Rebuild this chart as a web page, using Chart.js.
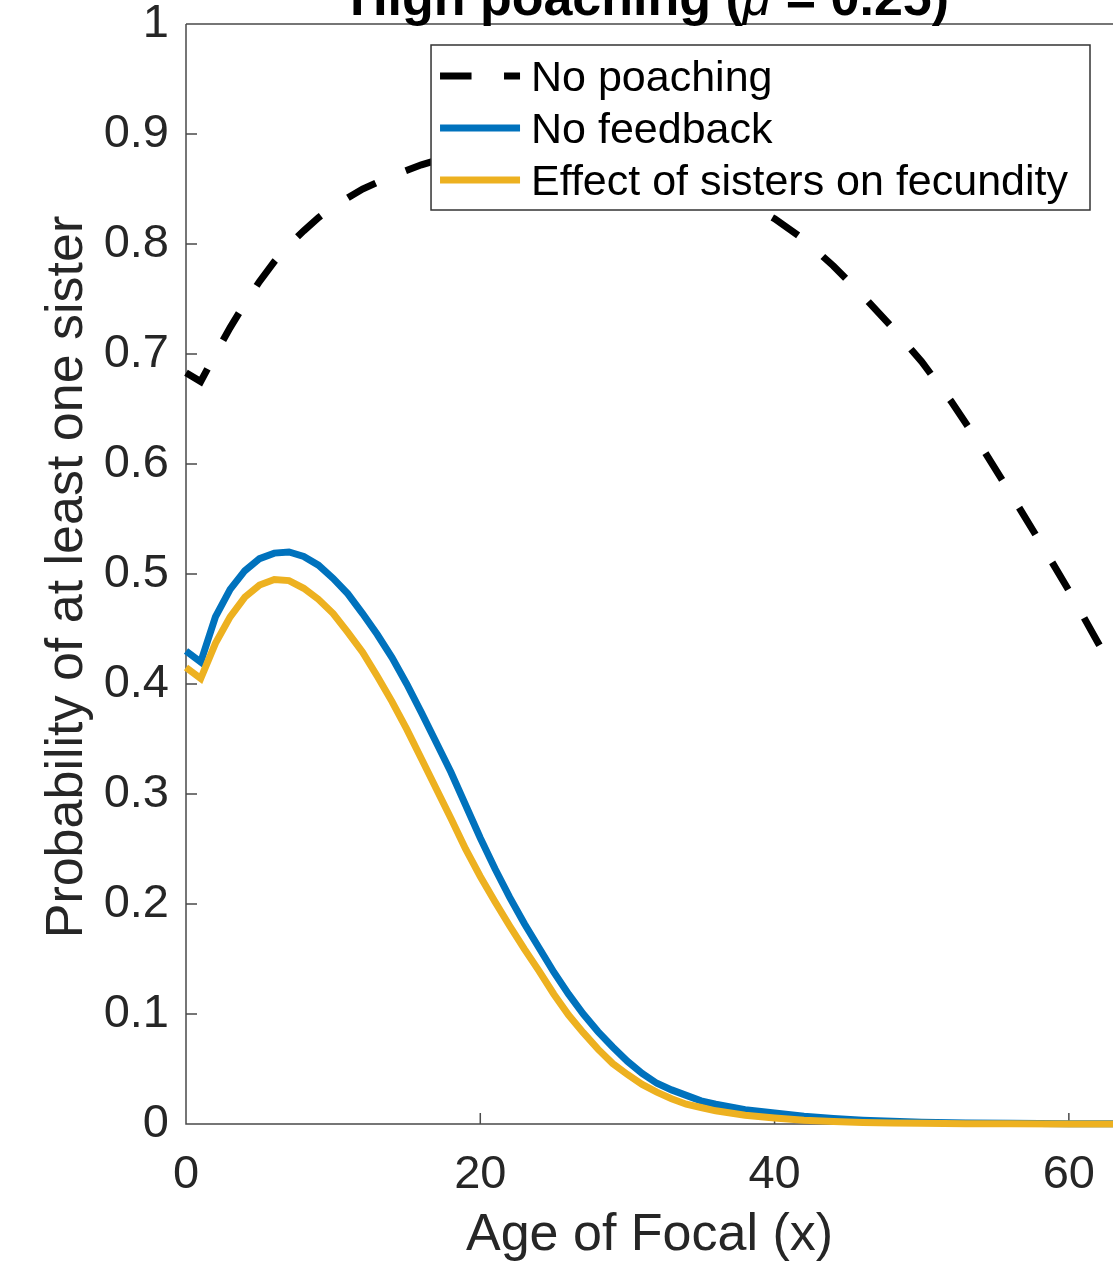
<!DOCTYPE html>
<html>
<head>
<meta charset="utf-8">
<title>High poaching</title>
<script src="https://cdn.jsdelivr.net/npm/chart.js@4.4.1/dist/chart.umd.min.js"></script>
<style>
  html, body { margin: 0; padding: 0; background: #fff; }
  canvas { display: block; }
</style>
</head>
<body>
<canvas id="sisterChart" width="1117" height="1263"></canvas>
<script>
// probability of at least one sister, by age of Focal

// no poaching (dashed black)
const noPoachingAge = [0, 1, 2, 3, 4, 5, 6, 7, 8, 9, 10, 12, 14, 16, 18, 20, 22, 24, 26, 28, 30,
  32, 34, 36, 38, 40, 42, 44, 46, 48, 50, 52, 54, 56, 58, 60, 62, 63];
const noPoachingProb = [0.683, 0.675, 0.700, 0.724, 0.746, 0.766, 0.784, 0.799, 0.812, 0.824, 0.834,
  0.850, 0.862, 0.872, 0.880, 0.886, 0.890, 0.891, 0.890, 0.886, 0.880, 0.872, 0.862, 0.851, 0.838,
  0.823, 0.804, 0.780, 0.753, 0.724, 0.693, 0.657, 0.617, 0.574, 0.530, 0.485, 0.437, 0.414];

// poaching curves share the same ages
const poachingAge = [0, 1, 2, 3, 4, 5, 6, 7, 8, 9, 10, 11, 12, 13, 14, 15, 16, 17, 18, 19, 20,
  21, 22, 23, 24, 25, 26, 27, 28, 29, 30, 31, 32, 33, 34, 35, 36, 38, 40, 42, 44, 46, 48, 50,
  53, 56, 60, 63];
const noFeedbackProb = [0.430, 0.420, 0.461, 0.486, 0.503, 0.514, 0.519, 0.520, 0.516, 0.508, 0.496,
  0.482, 0.464, 0.445, 0.424, 0.400, 0.374, 0.347, 0.320, 0.290, 0.260, 0.232, 0.206, 0.182, 0.160,
  0.138, 0.118, 0.100, 0.084, 0.070, 0.057, 0.046, 0.037, 0.031, 0.026, 0.021, 0.018, 0.013, 0.010,
  0.007, 0.005, 0.0035, 0.0025, 0.0017, 0.001, 0.0006, 0.0003, 0.0002];
const fecundityProb = [0.415, 0.405, 0.437, 0.461, 0.479, 0.490, 0.495, 0.494, 0.487, 0.477, 0.464,
  0.447, 0.429, 0.407, 0.384, 0.359, 0.332, 0.305, 0.278, 0.250, 0.225, 0.202, 0.180, 0.159, 0.139,
  0.118, 0.099, 0.083, 0.068, 0.055, 0.045, 0.036, 0.029, 0.023, 0.018, 0.015, 0.012, 0.008, 0.0055,
  0.0035, 0.0022, 0.0014, 0.0009, 0.0006, 0.0003, 0.0002, 0.0001, 0.0001];

const seriesLabels = ['No poaching', 'No feedback', 'Effect of sisters on fecundity'];
const xTickValues = [0, 20, 40, 60];
const yTickValues = [0, 0.1, 0.2, 0.3, 0.4, 0.5, 0.6, 0.7, 0.8, 0.9, 1];
const xMax = 63;

const titleParts = ['High poaching (', '\u03bc', ' = 0.25)'];
const xTitle = 'Age of Focal (x)';
const yTitle = 'Probability of at least one sister';

const FONT = '"Liberation Sans", Arial, Helvetica, sans-serif';
const AXIS_COLOR = '#4a4a4a';
const LINE_W = 7;

const toPoints = (xs, ys) => xs.map((x, i) => ({ x: x, y: ys[i] }));

// axis lines, top edge and inward tick marks (drawn under the curves)
const axesFrame = {
  id: 'axesFrame',
  beforeDatasetsDraw(chart) {
    const { ctx, chartArea: a, scales } = chart;
    ctx.save();
    ctx.strokeStyle = AXIS_COLOR;
    ctx.lineWidth = 1.5;
    ctx.beginPath();
    ctx.moveTo(a.left, a.top);
    ctx.lineTo(a.left, a.bottom);
    ctx.lineTo(a.right, a.bottom);
    ctx.moveTo(a.left, a.top);
    ctx.lineTo(a.right, a.top);
    yTickValues.forEach(v => {
      const y = scales.y.getPixelForValue(v);
      ctx.moveTo(a.left, y);
      ctx.lineTo(a.left + 11, y);
    });
    xTickValues.forEach(v => {
      const x = scales.x.getPixelForValue(v);
      ctx.moveTo(x, a.bottom);
      ctx.lineTo(x, a.bottom - 11);
    });
    ctx.stroke();
    ctx.restore();
  }
};

// title, axis titles and boxed legend
const labelsAndLegend = {
  id: 'labelsAndLegend',
  afterDraw(chart) {
    const { ctx, chartArea: a } = chart;
    const cx = (a.left + a.right) / 2;
    ctx.save();

    // title (top part falls off the canvas)
    const fonts = ['bold 52px ' + FONT, 'italic 52px ' + FONT, 'bold 52px ' + FONT];
    const widths = titleParts.map((t, i) => { ctx.font = fonts[i]; return ctx.measureText(t).width; });
    let tx = cx - widths.reduce((s, w) => s + w, 0) / 2;
    ctx.fillStyle = '#000';
    ctx.textBaseline = 'alphabetic';
    ctx.textAlign = 'left';
    titleParts.forEach((t, i) => {
      ctx.font = fonts[i];
      ctx.fillText(t, tx, 15);
      tx += widths[i];
    });

    // axis titles
    ctx.fillStyle = '#262626';
    ctx.font = '52px ' + FONT;
    ctx.textAlign = 'center';
    ctx.fillText(xTitle, cx, 1250);
    ctx.save();
    ctx.translate(82, (a.top + a.bottom) / 2 + 3);
    ctx.rotate(-Math.PI / 2);
    ctx.fillText(yTitle, 0, 0);
    ctx.restore();

    // legend box
    ctx.font = '43px ' + FONT;
    const textW = Math.max(...chart.data.datasets.map(d => ctx.measureText(d.label).width));
    const sample = 80;
    const boxW = 10 + sample + 10 + textW + 22;
    const boxH = 165;
    const right = a.right - 23;
    const left = right - boxW;
    const top = a.top + 21;
    ctx.fillStyle = '#fff';
    ctx.fillRect(left, top, boxW, boxH);
    ctx.strokeStyle = '#333';
    ctx.lineWidth = 1.5;
    ctx.strokeRect(left, top, boxW, boxH);

    ctx.textAlign = 'left';
    chart.data.datasets.forEach((d, i) => {
      const rowY = top + 31 + i * 52;
      ctx.beginPath();
      ctx.setLineDash(d.borderDash || []);
      ctx.lineDashOffset = 0;
      ctx.lineCap = 'butt';
      ctx.strokeStyle = d.borderColor;
      ctx.lineWidth = d.borderWidth;
      ctx.moveTo(left + 9, rowY);
      ctx.lineTo(left + 9 + sample, rowY);
      ctx.stroke();
      ctx.setLineDash([]);
      ctx.fillStyle = '#000';
      ctx.fillText(d.label, left + 9 + sample + 11, rowY + 15);
    });
    ctx.restore();
  }
};

const ctx = document.getElementById('sisterChart').getContext('2d');
new Chart(ctx, {
  type: 'line',
  data: {
    datasets: [
      {
        label: seriesLabels[0],
        data: toPoints(noPoachingAge, noPoachingProb),
        borderColor: '#000000',
        borderWidth: LINE_W,
        borderDash: [31.5, 32.5],
        borderCapStyle: 'butt',
        order: 2
      },
      {
        label: seriesLabels[1],
        data: toPoints(poachingAge, noFeedbackProb),
        borderColor: '#0072BD',
        borderWidth: LINE_W,
        order: 1
      },
      {
        label: seriesLabels[2],
        data: toPoints(poachingAge, fecundityProb),
        borderColor: '#EDB120',
        borderWidth: LINE_W,
        order: 0
      }
    ]
  },
  options: {
    responsive: false,
    animation: false,
    devicePixelRatio: 1,
    layout: { padding: { top: 24, right: 4, left: 0, bottom: 0 } },
    elements: {
      point: { radius: 0, hoverRadius: 0 },
      line: { tension: 0, fill: false, borderJoinStyle: 'miter' }
    },
    datasets: { line: { clip: 10 } },
    plugins: {
      legend: { display: false },
      title: { display: false },
      tooltip: { enabled: false }
    },
    scales: {
      x: {
        type: 'linear',
        min: 0,
        max: xMax,
        afterFit: s => { s.height = 139; s.paddingLeft = 0; s.paddingRight = 0; },
        afterBuildTicks: s => { s.ticks = xTickValues.map(v => ({ value: v })); },
        grid: { display: false },
        border: { display: false },
        ticks: {
          autoSkip: false,
          maxRotation: 0,
          padding: 15,
          color: '#262626',
          font: { family: FONT, size: 47 },
          callback: v => String(v)
        }
      },
      y: {
        type: 'linear',
        min: 0,
        max: 1,
        afterFit: s => { s.width = 186; s.paddingTop = 0; s.paddingBottom = 0; },
        afterBuildTicks: s => { s.ticks = yTickValues.map(v => ({ value: v })); },
        grid: { display: false },
        border: { display: false },
        ticks: {
          autoSkip: false,
          padding: 9,
          color: '#262626',
          font: { family: FONT, size: 47 },
          callback: v => String(Number(v.toFixed(1)))
        }
      }
    }
  },
  plugins: [axesFrame, labelsAndLegend]
});
</script>
</body>
</html>
